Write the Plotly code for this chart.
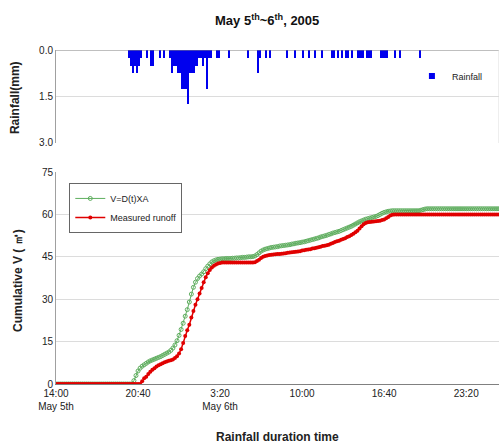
import plotly.graph_objects as go

# ---------------- data ----------------
# cumulative runoff volumes at 10-minute steps starting 14:00 May 5th
measured_runoff = [
    0, 0, 0, 0, 0, 0, 0, 0, 0, 0,
    0, 0, 0, 0, 0, 0, 0, 0, 0, 0,
    0, 0, 0, 0, 0, 0, 0, 0, 0, 0,
    0, 0, 0, 0, 0, 0, 0, 0, 0, 0,
    0, 0, 1.0, 2.0, 2.6, 3.5, 4.3, 5.0, 5.6, 6.2,
    6.6, 7.0, 7.3, 7.7, 8.0, 8.2, 8.4, 8.7, 9.2, 9.8,
    10.8, 12.3, 14.5, 17.0, 19.0, 21.0, 23.5, 25.8, 28.0, 30.0,
    32.0, 34.0, 36.0, 37.8, 39.2, 40.3, 41.2, 41.8, 42.3, 42.6,
    42.8, 43.0, 43.0, 43.0, 43.0, 43.0, 43.0, 43.0, 43.0, 43.0,
    43.0, 43.0, 43.0, 43.0, 43.0, 43.0, 43.0, 43.1, 43.5, 44.0,
    44.6, 45.0, 45.3, 45.5, 45.6, 45.7, 45.8, 45.9, 46.0, 46.0,
    46.1, 46.2, 46.3, 46.4, 46.5, 46.6, 46.7, 46.8, 46.9, 47.0,
    47.2, 47.3, 47.5, 47.6, 47.7, 47.9, 48.0, 48.2, 48.4, 48.6,
    48.8, 48.9, 49.1, 49.3, 49.6, 49.9, 50.2, 50.5, 50.7, 51.0,
    51.3, 51.6, 52.0, 52.3, 52.7, 53.2, 53.7, 54.2, 55.0, 55.8,
    56.5, 57.0, 57.2, 57.3, 57.4, 57.5, 57.6, 57.7, 57.8, 58.0,
    58.2, 58.6, 59.1, 59.6, 59.9, 60.0, 60.0, 60.0, 60.0, 60.0,
    60.0, 60.0, 60.0, 60.0, 60.0, 60.0, 60.0, 60.0, 60.0, 60.0,
    60.0, 60.0, 60.0, 60.0, 60.0, 60.0, 60.0, 60.0, 60.0, 60.0,
    60.0, 60.0, 60.0, 60.0, 60.0, 60.0, 60.0, 60.0, 60.0, 60.0,
    60.0, 60.0, 60.0, 60.0, 60.0, 60.0, 60.0, 60.0, 60.0, 60.0,
    60.0, 60.0, 60.0, 60.0, 60.0, 60.0, 60.0,
]

v_dt_xa = [
    0, 0, 0, 0, 0, 0, 0, 0, 0, 0,
    0, 0, 0, 0, 0, 0, 0, 0, 0, 0,
    0, 0, 0, 0, 0, 0, 0, 0, 0, 0,
    0, 0, 0, 0, 0, 0, 0, 0, 1.2, 3.0,
    4.6, 5.6, 6.3, 6.8, 7.3, 7.8, 8.2, 8.5, 8.8, 9.1,
    9.4, 9.7, 10.1, 10.5, 10.9, 11.3, 11.9, 12.7, 13.8, 15.3,
    17.2, 19.3, 21.5, 24.0, 26.3, 29.0, 31.8, 34.2, 36.0, 37.3,
    38.2, 38.9, 39.7, 40.8, 41.7, 42.5, 43.2, 43.6, 43.9, 44.1,
    44.2, 44.3, 44.3, 44.4, 44.4, 44.4, 44.5, 44.5, 44.6, 44.6,
    44.7, 44.8, 44.8, 44.9, 45.0, 45.0, 45.1, 45.3, 45.8, 46.4,
    47.0, 47.4, 47.7, 47.9, 48.1, 48.3, 48.4, 48.5, 48.6, 48.8,
    48.9, 49.0, 49.1, 49.2, 49.3, 49.5, 49.6, 49.8, 49.9, 50.0,
    50.2, 50.3, 50.5, 50.7, 50.9, 51.1, 51.3, 51.5, 51.7, 52.0,
    52.2, 52.4, 52.6, 52.9, 53.1, 53.4, 53.6, 53.8, 54.0, 54.3,
    54.6, 54.9, 55.2, 55.5, 55.8, 56.2, 56.6, 57.0, 57.4, 57.7,
    58.0, 58.3, 58.5, 58.7, 58.9, 59.1, 59.3, 59.6, 60.0, 60.4,
    60.7, 60.9, 61.1, 61.2, 61.3, 61.3, 61.3, 61.3, 61.3, 61.3,
    61.3, 61.3, 61.3, 61.3, 61.3, 61.3, 61.3, 61.3, 61.5, 61.7,
    61.9, 62.0, 62.0, 62.0, 62.0, 62.0, 62.0, 62.0, 62.0, 62.0,
    62.0, 62.0, 62.0, 62.0, 62.0, 62.0, 62.0, 62.0, 62.0, 62.0,
    62.0, 62.0, 62.0, 62.0, 62.0, 62.0, 62.0, 62.0, 62.0, 62.0,
    62.0, 62.0, 62.0, 62.0, 62.0, 62.0, 62.0,
]

# minutes after 14:00 May 5th
time_min = [i * 10 for i in range(len(measured_runoff))]

rain_time = [350, 360, 370, 380, 390, 400, 410, 440, 460, 470, 500, 520,
             550, 560, 570, 580, 590, 600, 610, 620, 630, 640, 650, 660,
             670, 680, 690, 700, 710, 720, 730, 740, 750, 780, 790, 840,
             930, 980, 990, 1020, 1040, 1120, 1160, 1200, 1230, 1260, 1290,
             1340, 1350, 1370, 1390, 1410, 1420, 1440, 1470, 1480, 1490,
             1510, 1520, 1530, 1580, 1590, 1600, 1610, 1650, 1670, 1770]
rain_mm = [0.25, 0.5, 0.75, 0.5, 0.75, 0.5, 0.25, 0.25, 0.5, 0.5, 0.25, 0.25,
           0.25, 0.75, 0.5, 0.5, 0.75, 0.75, 1.25, 1.25, 1.25, 1.75, 0.75, 0.75,
           0.75, 0.5, 0.25, 0.25, 0.5, 0.25, 1.25, 0.25, 0.25, 0.25, 0.25, 0.25,
           0.25, 0.75, 0.25, 0.25, 0.25, 0.25, 0.25, 0.25, 0.25, 0.25, 0.25,
           0.25, 0.25, 0.25, 0.25, 0.25, 0.25, 0.25, 0.25, 0.25, 0.25,
           0.25, 0.25, 0.25, 0.25, 0.25, 0.25, 0.25, 0.25, 0.25, 0.25]

tick_vals = [0, 400, 800, 1200, 1600, 2000]
tick_text = ["14:00<br>May 5th", "20:40", "3:20<br>May 6th", "10:00", "16:40", "23:20"]

# ---------------- figure ----------------
FONT = "Arial, Liberation Sans, sans-serif"
BLUE = "#0000ee"
fig = go.Figure()

fig.add_trace(go.Bar(
    x=rain_time, y=rain_mm, width=[10] * len(rain_time), offset=0,
    marker=dict(color=BLUE, line=dict(width=0)),
    name="Rainfall", xaxis="x2", yaxis="y2", showlegend=False,
))
# legend key for the rainfall bars (small square like the original)
fig.add_trace(go.Scatter(
    x=[None], y=[None], mode="markers", name="Rainfall",
    marker=dict(symbol="square", size=6, color=BLUE),
    xaxis="x2", yaxis="y2", legend="legend2",
))

fig.add_trace(go.Scatter(
    x=time_min, y=v_dt_xa, mode="lines+markers", name="V=D(t)XA",
    line=dict(color="#5fae5f", width=1),
    marker=dict(symbol="circle-open", size=4, color="#5fae5f", line=dict(width=1)),
))
fig.add_trace(go.Scatter(
    x=time_min, y=measured_runoff, mode="lines+markers", name="Measured runoff",
    line=dict(color="#e00000", width=1.5),
    marker=dict(symbol="circle", size=4, color="#e00000"),
))

grid = "#dcdcdc"
fig.update_layout(
    width=499, height=447,
    margin=dict(l=56, r=0, t=50, b=63, autoexpand=False),
    paper_bgcolor="white", plot_bgcolor="white",
    font=dict(family=FONT, size=10, color="#222"),
    bargap=0,
    xaxis=dict(domain=[0, 1], range=[0, 2160], tickvals=tick_vals, ticktext=tick_text,
               showgrid=False, zeroline=False, showline=True, linecolor="#808080",
               linewidth=1, ticks="", tickfont=dict(size=10), automargin=False),
    yaxis=dict(domain=[0, 0.6347], range=[0, 75], tickvals=[0, 15, 30, 45, 60, 75],
               showgrid=True, gridcolor=grid, zeroline=False, showline=True,
               linecolor="#a0a0a0", ticks="", tickfont=dict(size=10), automargin=False),
    xaxis2=dict(domain=[0, 1], range=[0, 2160], anchor="y2", showticklabels=False,
                showgrid=False, zeroline=False, showline=False, ticks=""),
    yaxis2=dict(domain=[0.7216, 1], range=[3.0, 0], anchor="x2",
                tickvals=[0, 1.5, 3.0], ticktext=["0.0", "1.5", "3.0"],
                showgrid=True, gridcolor=grid, zeroline=False, showline=True,
                linecolor="#a0a0a0", ticks="", tickfont=dict(size=10), automargin=False),
    legend=dict(x=0.03, y=0.602, xanchor="left", yanchor="top",
                bordercolor="#666", borderwidth=1, bgcolor="white",
                font=dict(size=9), tracegroupgap=0, itemwidth=30),
    legend2=dict(x=0.975, y=0.922, xanchor="right", yanchor="middle",
                 bgcolor="rgba(0,0,0,0)", font=dict(size=9), itemwidth=30),
    showlegend=True,
)

# top panel frame: darker line at 0.0 and light right border
fig.add_shape(type="line", xref="x2 domain", yref="y2", x0=0, x1=1, y0=0, y1=0,
              line=dict(color="#808080", width=1.2))
fig.add_shape(type="line", xref="x2 domain", yref="y2 domain", x0=1, x1=1, y0=0, y1=1,
              line=dict(color="#dcdcdc", width=1))

fig.add_annotation(text="<b>May 5<sup>th</sup>~6<sup>th</sup>, 2005</b>",
                   xref="paper", yref="paper", x=0.476, y=1.0 + 30 / 334,
                   showarrow=False, font=dict(size=13, color="#111"),
                   xanchor="center", yanchor="middle")
fig.add_annotation(text="<b>Rainfall(mm)</b>", xref="paper", yref="paper",
                   x=-0.0926, y=0.859, textangle=-90, showarrow=False,
                   font=dict(size=12, color="#222"), xanchor="center", yanchor="middle")
fig.add_annotation(text="<b>Cumulative V ( ㎥)</b>", xref="paper", yref="paper",
                   x=-0.086, y=0.311, textangle=-90, showarrow=False,
                   font=dict(size=12, color="#222"), xanchor="center", yanchor="middle")
fig.add_annotation(text="<b>Rainfall duration time</b>", xref="paper", yref="paper",
                   x=0.501, y=-0.159, showarrow=False,
                   font=dict(size=12, color="#222"), xanchor="center", yanchor="middle")

fig.write_html("out.html")
